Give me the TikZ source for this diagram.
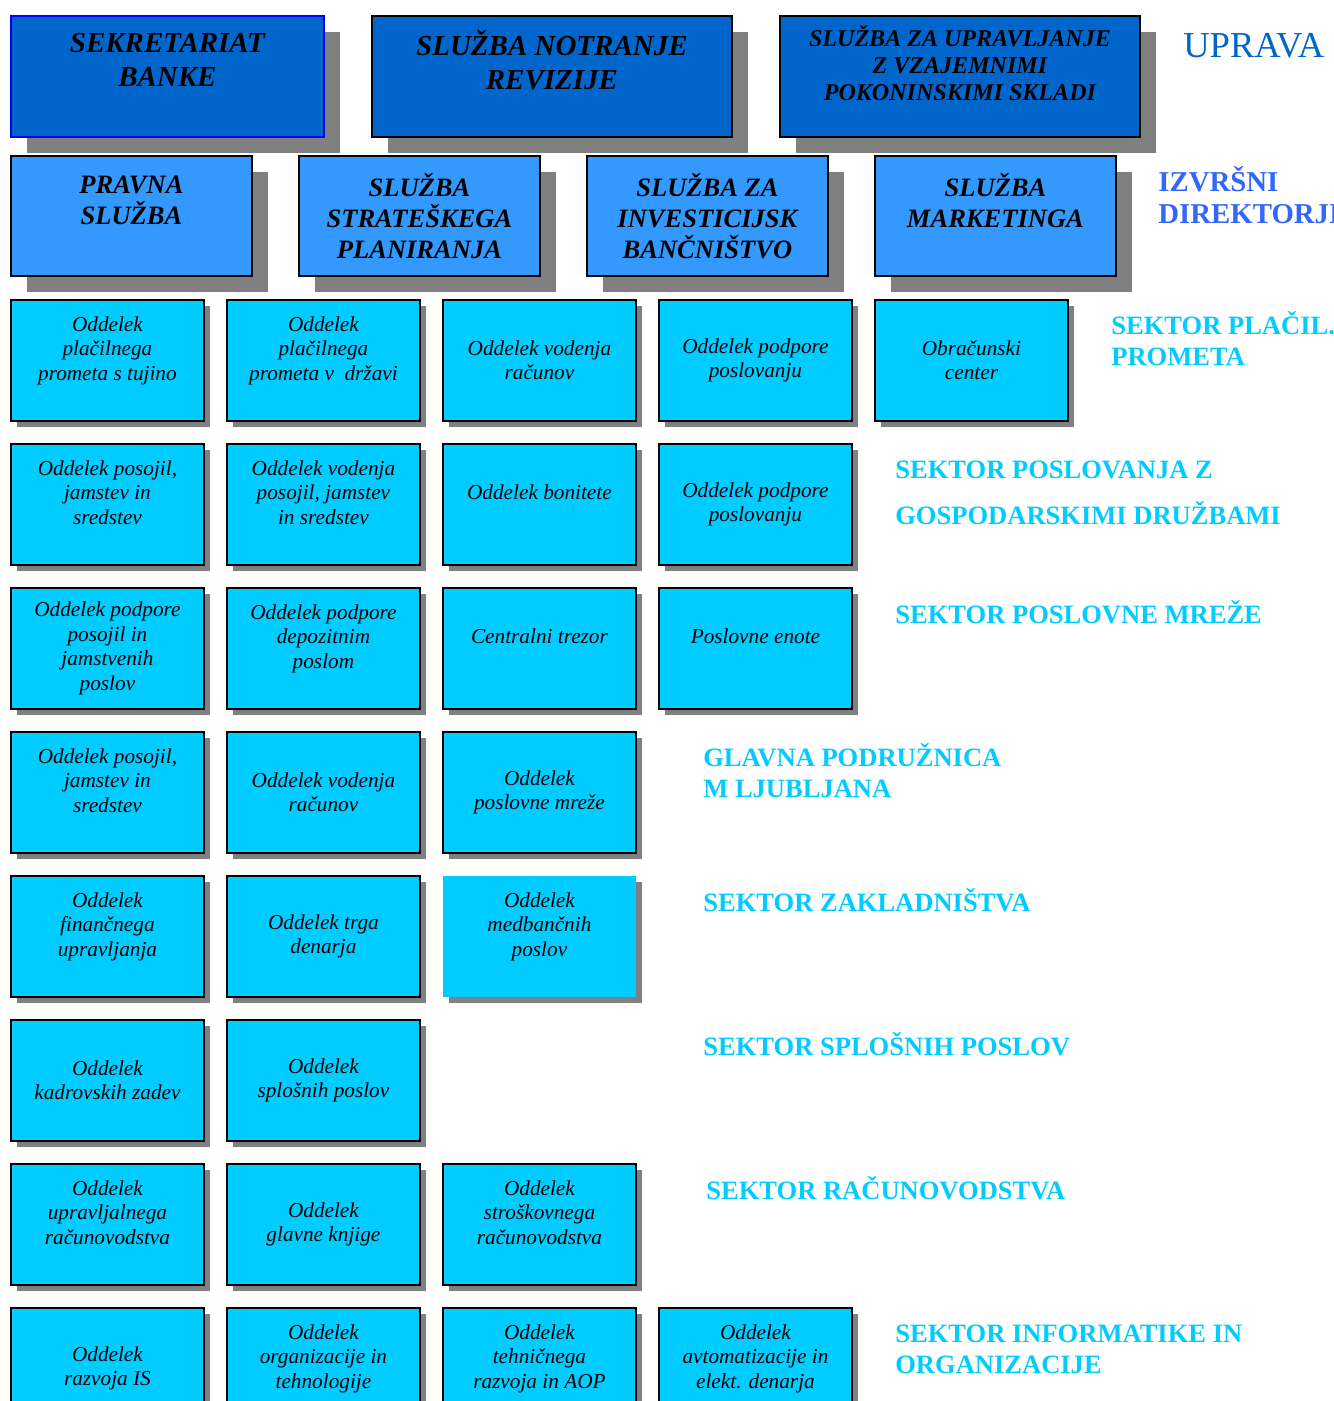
\documentclass[tikz,border=0pt]{standalone}
\usepackage{fontspec}
\setmainfont{Liberation Serif}
\usetikzlibrary{positioning,shadows}

\definecolor{upravablue}{HTML}{0066CC}
\definecolor{direktorblue}{HTML}{3399FF}
\definecolor{oddelekcyan}{HTML}{00CCFF}
\definecolor{sektorcyan}{HTML}{00CCFF}
\definecolor{izvrsniblue}{HTML}{3366FF}
\definecolor{shadowgray}{HTML}{808080}

\begin{document}
\begin{tikzpicture}[x=0.02cm, y=-0.02cm,
	uprava/.style={rectangle, draw=black, line width=1.1pt, fill=upravablue,
		drop shadow={shadow xshift=0.32cm, shadow yshift=-0.32cm, fill=shadowgray, opacity=1},
		anchor=north west, minimum height=2.42cm, align=center,
		font=\fontsize{16.5}{19.3}\selectfont\bfseries\itshape},
	direktor/.style={rectangle, draw=black, line width=1.1pt, fill=direktorblue,
		drop shadow={shadow xshift=0.32cm, shadow yshift=-0.32cm, fill=shadowgray, opacity=1},
		anchor=north west, minimum width=4.82cm, minimum height=2.4cm, align=center,
		font=\fontsize{15.1}{17.6}\selectfont\bfseries\itshape},
	oddelek/.style={rectangle, draw=black, line width=1.1pt, fill=oddelekcyan,
		drop shadow={shadow xshift=0.12cm, shadow yshift=-0.12cm, fill=shadowgray, opacity=1},
		anchor=north west, minimum width=3.86cm, minimum height=2.42cm, align=center,
		font=\fontsize{12.1}{13.9}\selectfont\itshape},
	sektor/.style={anchor=base west, align=left, inner sep=0pt, text=sektorcyan,
		font=\fontsize{15.1}{17.6}\selectfont\bfseries}
	]
	\useasboundingbox (0,0) rectangle (1334,1401);

	\node (upr1) [uprava, draw=blue, minimum width=6.26cm] at (10,15) {SEKRETARIAT\\ BANKE\\ ~};
	\node (upr2) [uprava, minimum width=7.2cm] at (371,15) {SLUŽBA NOTRANJE\\ REVIZIJE\\ ~};
	\node (upr3) [uprava, minimum width=7.2cm, font=\fontsize{13.7}{15.4}\selectfont\bfseries\itshape]
		at (779,15) {SLUŽBA ZA UPRAVLJANJE\\ Z VZAJEMNIMI\\ POKONINSKIMI SKLADI\\ ~};

	\node (dir1) [direktor] at (10,155) {PRAVNA\\ SLUŽBA\\ ~};
	\node (dir2) [direktor] at (298,155) {SLUŽBA\\ STRATEŠKEGA\\ PLANIRANJA};
	\node (dir3) [direktor] at (586,155) {SLUŽBA ZA\\ INVESTICIJSK\\ BANČNIŠTVO};
	\node (dir4) [direktor] at (874,155) {SLUŽBA\\ MARKETINGA\\ ~};

	\node (pp1) [oddelek] at (10,299) {Oddelek\\ plačilnega\\ prometa s tujino\\ ~};
	\node (pp2) [oddelek] at (226,299) {Oddelek\\ plačilnega\\ prometa v~ državi\\ ~};
	\node (pp3) [oddelek] at (442,299) {Oddelek vodenja\\ računov};
	\node (pp4) [oddelek] at (658,299) {Oddelek podpore\\ poslovanju};
	\node (pp5) [oddelek] at (874,299) {Obračunski\\ center};

	\node (gd1) [oddelek] at (10,443) {Oddelek posojil,\\ jamstev in\\ sredstev\\ ~};
	\node (gd2) [oddelek] at (226,443) {Oddelek vodenja\\ posojil, jamstev\\ in sredstev\\ ~};
	\node (gd3) [oddelek] at (442,443) {Oddelek bonitete\\ ~};
	\node (gd4) [oddelek] at (658,443) {Oddelek podpore\\ poslovanju};

	\node (pm1) [oddelek] at (10,587) {Oddelek podpore\\ posojil in\\ jamstvenih\\ poslov};
	\node (pm2) [oddelek] at (226,587) {Oddelek podpore\\ depozitnim\\ poslom\\ ~};
	\node (pm3) [oddelek] at (442,587) {Centralni trezor\\ ~};
	\node (pm4) [oddelek] at (658,587) {Poslovne enote\\ ~};

	\node (gp1) [oddelek] at (10,731) {Oddelek posojil,\\ jamstev in\\ sredstev\\ ~};
	\node (gp2) [oddelek] at (226,731) {Oddelek vodenja\\ računov};
	\node (gp3) [oddelek] at (442,731) {Oddelek\\ poslovne mreže};

	\node (zk1) [oddelek] at (10,875) {Oddelek\\ finančnega\\ upravljanja\\ ~};
	\node (zk2) [oddelek] at (226,875) {Oddelek trga\\ denarja};
	\node (zk3) [oddelek, draw=none] at (442,875) {Oddelek\\ medbančnih\\ poslov\\ ~};

	\node (sp1) [oddelek] at (10,1019) {Oddelek\\ kadrovskih zadev};
	\node (sp2) [oddelek] at (226,1019) {Oddelek\\ splošnih poslov};

	\node (rc1) [oddelek] at (10,1163) {Oddelek\\ upravljalnega\\ računovodstva\\ ~};
	\node (rc2) [oddelek] at (226,1163) {Oddelek\\ glavne knjige};
	\node (rc3) [oddelek] at (442,1163) {Oddelek\\ stroškovnega\\ računovodstva\\ ~};

	\node (inf1) [oddelek] at (10,1307) {Oddelek\\ razvoja IS};
	\node (inf2) [oddelek] at (226,1307) {Oddelek\\ organizacije in\\ tehnologije\\ ~};
	\node (inf3) [oddelek] at (442,1307) {Oddelek\\ tehničnega\\ razvoja in AOP\\ ~};
	\node (inf4) [oddelek] at (658,1307) {Oddelek\\ avtomatizacije in\\ elekt. denarja\\ ~};

	\node (lupr) [sektor, text=upravablue, font=\fontsize{20.8}{23}\selectfont] at (1183,57) {UPRAVA};
	\node (lizv) [sektor, text=izvrsniblue, font=\fontsize{16.4}{18.2}\selectfont\bfseries] at (1158,223) {IZVRŠNI\\ DIREKTORJI};
	\node (lpp) [sektor] at (1111,365) {SEKTOR PLAČIL.\\ PROMETA};
	\node (lgd) [sektor] at (895,524) {SEKTOR POSLOVANJA Z\\[8.5pt] GOSPODARSKIMI DRUŽBAMI};
	\node (lpm) [sektor] at (895,623) {SEKTOR POSLOVNE MREŽE};
	\node (lgp) [sektor] at (703,797) {GLAVNA PODRUŽNICA\\ M LJUBLJANA};
	\node (lzk) [sektor] at (703,911) {SEKTOR ZAKLADNIŠTVA};
	\node (lsp) [sektor] at (703,1055) {SEKTOR SPLOŠNIH POSLOV};
	\node (lrc) [sektor] at (706,1199) {SEKTOR RAČUNOVODSTVA};
	\node (linf) [sektor] at (895,1373) {SEKTOR INFORMATIKE IN\\ ORGANIZACIJE};
\end{tikzpicture}
\end{document}
